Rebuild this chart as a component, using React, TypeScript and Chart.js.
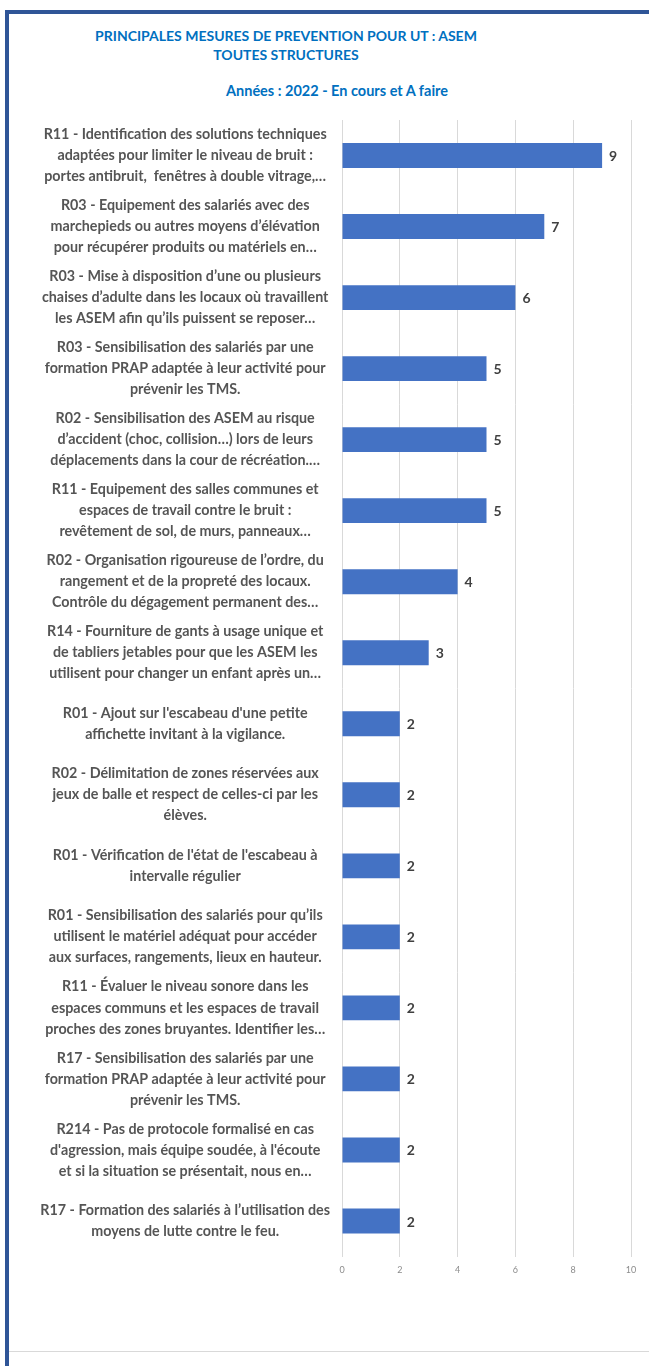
import { useEffect, useRef } from "react";
import { Chart, registerables } from "chart.js";

Chart.register(...registerables);

const titleLines = ["PRINCIPALES MESURES DE PREVENTION POUR UT : ASEM", "TOUTES STRUCTURES"];
const subtitle = "Années : 2022 - En cours et A faire";

const categories: string[][] = [
  ["R11 - Identification des solutions techniques", "adaptées pour limiter le niveau de bruit :", "portes antibruit,  fenêtres à double vitrage,…"],
  ["R03 - Equipement des salariés avec des", "marchepieds ou autres moyens d’élévation", "pour récupérer produits ou matériels en…"],
  ["R03 - Mise à disposition d’une ou plusieurs", "chaises d’adulte dans les locaux où travaillent", "les ASEM afin qu’ils puissent se reposer…"],
  ["R03 - Sensibilisation des salariés par une", "formation PRAP adaptée à leur activité pour", "prévenir les TMS."],
  ["R02 - Sensibilisation des ASEM au risque", "d’accident (choc, collision…) lors de leurs", "déplacements dans la cour de récréation.…"],
  ["R11 - Equipement des salles communes et", "espaces de travail contre le bruit :", "revêtement de sol, de murs, panneaux…"],
  ["R02 - Organisation rigoureuse de l’ordre, du", "rangement et de la propreté des locaux.", "Contrôle du dégagement permanent des…"],
  ["R14 - Fourniture de gants à usage unique et", "de tabliers jetables pour que les ASEM les", "utilisent pour changer un enfant après un…"],
  ["R01 - Ajout sur l'escabeau d'une petite", "affichette invitant à la vigilance."],
  ["R02 - Délimitation de zones réservées aux", "jeux de balle et respect de celles-ci par les", "élèves."],
  ["R01 - Vérification de l'état de l'escabeau à", "intervalle régulier"],
  ["R01 - Sensibilisation des salariés pour qu’ils", "utilisent le matériel adéquat pour accéder", "aux surfaces, rangements, lieux en hauteur."],
  ["R11 - Évaluer le niveau sonore dans les", "espaces communs et les espaces de travail", "proches des zones bruyantes. Identifier les…"],
  ["R17 - Sensibilisation des salariés par une", "formation PRAP adaptée à leur activité pour", "prévenir les TMS."],
  ["R214 - Pas de protocole formalisé en cas", "d'agression, mais équipe soudée, à l'écoute", "et si la situation se présentait, nous en…"],
  ["R17 - Formation des salariés à l’utilisation des", "moyens de lutte contre le feu."],
];

const values = [9, 7, 6, 5, 5, 5, 4, 3, 2, 2, 2, 2, 2, 2, 2, 2];

const xMin = 0;
const xMax = 10;
const xStep = 2;

const FONT = "Lato, 'Open Sans', sans-serif";

const valueLabels = {
  id: "valueLabels",
  afterDatasetsDraw(chart: any) {
    const ctx = chart.ctx;
    const meta = chart.getDatasetMeta(0);
    ctx.save();
    ctx.font = `bold 14px ${FONT}`;
    ctx.fillStyle = "#404040";
    ctx.textAlign = "left";
    ctx.textBaseline = "middle";
    meta.data.forEach((bar: any, i: number) => {
      ctx.fillText(String(chart.data.datasets[0].data[i]), bar.x + 7, bar.y + 1);
    });
    ctx.restore();
  },
};

export default function App() {
  const ref = useRef<HTMLCanvasElement | null>(null);

  useEffect(() => {
    if (!ref.current) return;
    const chart = new Chart(ref.current, {
      type: "bar",
      data: {
        labels: categories,
        datasets: [
          {
            data: values,
            backgroundColor: "#4472C4",
            borderWidth: 0,
            barPercentage: 0.35,
            categoryPercentage: 1,
          },
        ],
      },
      options: {
        indexAxis: "y",
        responsive: false,
        animation: false,
        devicePixelRatio: 1,
        layout: { autoPadding: false, padding: { left: 0, right: 18, top: 10, bottom: 13.5 } },
        plugins: {
          legend: { display: false },
          tooltip: { enabled: false },
          title: { display: false },
        },
        scales: {
          x: {
            min: xMin,
            max: xMax,
            ticks: {
              stepSize: xStep,
              color: "#8c8c8c",
              font: { family: FONT, size: 9 },
              padding: 8,
            },
            grid: { color: "#d9d9d9", lineWidth: 1, drawTicks: false },
            border: { display: false },
            afterFit: (scale: any) => {
              scale.height = 30;
              scale.paddingLeft = 0;
              scale.paddingRight = 0;
            },
          },
          y: {
            ticks: {
              crossAlign: "center",
              color: "#555555",
              padding: 12,
              font: { family: FONT, size: 14.3, weight: "bold", lineHeight: 1.47 },
              autoSkip: false,
            },
            grid: { display: false, drawTicks: false },
            border: { display: false },
            afterFit: (scale: any) => {
              scale.width = 333;
              scale.paddingTop = 0;
              scale.paddingBottom = 0;
            },
          },
        },
      },
      plugins: [valueLabels],
    });
    return () => chart.destroy();
  }, []);

  const titleStyle: any = {
    position: "absolute",
    color: "#0070C0",
    fontFamily: FONT,
    fontWeight: "bold",
    fontSize: "14px",
    textAlign: "center",
    whiteSpace: "nowrap",
    lineHeight: "18px",
  };

  return (
    <div style={{ position: "absolute", left: 0, top: 0, width: 649, height: 1366, overflow: "hidden", background: "#fff" }}>
      <div style={{ position: "absolute", left: 5, top: 10, width: 644, height: 4, background: "#2F5597" }} />
      <div style={{ position: "absolute", left: 5, top: 10, width: 4, height: 1356, background: "#2F5597" }} />
      <div style={{ position: "absolute", left: 9, top: 1351, width: 640, height: 1, background: "#d9d9d9" }} />
      <div style={{ ...titleStyle, left: 86, width: 400, top: 27 }}>{titleLines[0]}</div>
      <div style={{ ...titleStyle, left: 86, width: 400, top: 46 }}>{titleLines[1]}</div>
      <div style={{ ...titleStyle, fontSize: "14.5px", left: 187, width: 300, top: 82 }}>{subtitle}</div>
      <canvas ref={ref} width={640} height={1190} style={{ position: "absolute", left: 9, top: 110, width: 640, height: 1190 }} />
    </div>
  );
}
